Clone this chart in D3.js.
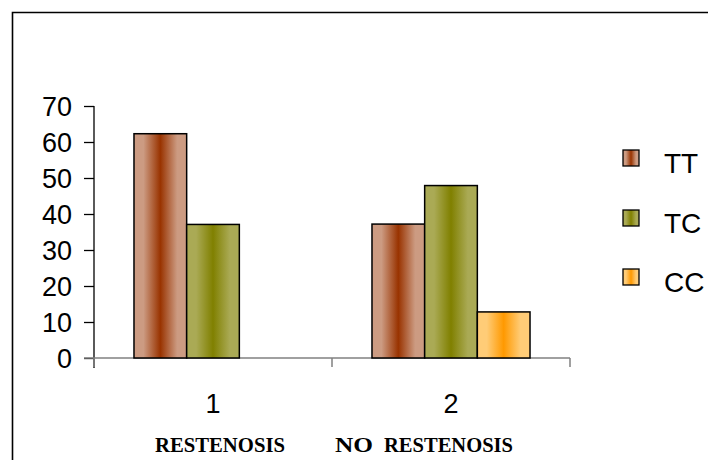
<!DOCTYPE html>
<html>
<head>
<meta charset="utf-8">
<script src="https://cdn.jsdelivr.net/npm/d3@7"></script>
<style>
html,body{margin:0;padding:0;background:#fff;}
svg{display:block;}
</style>
</head>
<body>
<svg id="chart" width="708" height="460"></svg>
<script>
// ---- data ----
const categories = ["1", "2"];
const categoryNames = ["RESTENOSIS", "NO RESTENOSIS"];
const seriesNames = ["TT", "TC", "CC"];
const TT = [62.3, 37.2];
const TC = [37.1, 47.9];
const CC = [null, 12.8];
const yTicks = [0, 10, 20, 30, 40, 50, 60, 70];

const seriesValues = [TT, TC, CC];
const colors = {
  TT: {edge: "#cc9b82", mid: "#993300"},
  TC: {edge: "#aaaa55", mid: "#808000"},
  CC: {edge: "#ffcc77", mid: "#ff9900"}
};

const svg = d3.select("#chart");

// frame
svg.append("path")
  .attr("d", "M12.5,460 L12.5,12.5 L708,12.5")
  .attr("fill", "none").attr("stroke", "#000").attr("stroke-width", 1.6);

// gradients
const defs = svg.append("defs");
seriesNames.forEach(s => {
  const g = defs.append("linearGradient").attr("id", "g" + s)
    .attr("x1", "0%").attr("x2", "100%").attr("y1", "0%").attr("y2", "0%");
  g.append("stop").attr("offset", "0%").attr("stop-color", colors[s].edge);
  g.append("stop").attr("offset", "18%").attr("stop-color", colors[s].edge);
  g.append("stop").attr("offset", "50%").attr("stop-color", colors[s].mid);
  g.append("stop").attr("offset", "82%").attr("stop-color", colors[s].edge);
  g.append("stop").attr("offset", "100%").attr("stop-color", colors[s].edge);
});

const y = d3.scaleLinear().domain([0, 70]).range([358, 106]);
const x0 = d3.scaleBand().domain(categories).range([94, 570])
  .paddingInner(0.336).paddingOuter(0.168);
const x1 = d3.scaleBand().domain(seriesNames).range([0, x0.bandwidth()]);

// y axis
const yAxis = svg.append("g").attr("transform", "translate(94,0)")
  .call(d3.axisLeft(y).tickValues(yTicks).tickSize(10).tickPadding(12).tickSizeOuter(0));
yAxis.select(".domain").remove();
yAxis.selectAll(".tick line").attr("stroke", "#000").attr("stroke-width", 1.3);
yAxis.selectAll(".tick text")
  .attr("font-family", "Liberation Sans, Arial, sans-serif")
  .attr("font-size", 27).attr("fill", "#000").attr("dy", "0.36em");
svg.append("line").attr("x1", 94).attr("x2", 94).attr("y1", y(70)).attr("y2", 368)
  .attr("stroke", "#000").attr("stroke-width", 1.3);

// x axis line (gray) and ticks
svg.append("line").attr("x1", 84).attr("x2", 570).attr("y1", y(0)).attr("y2", y(0))
  .attr("stroke", "#808080").attr("stroke-width", 1.5);
const xBounds = [94, x0("2") - x0.step() * x0.paddingInner() / 2, 570];
svg.selectAll(".xt").data(xBounds).enter().append("line")
  .attr("x1", d => d).attr("x2", d => d).attr("y1", y(0)).attr("y2", 367)
  .attr("stroke", "#808080").attr("stroke-width", 1.5);

// bars
categories.forEach((c, i) => {
  seriesNames.forEach((s, j) => {
    const v = seriesValues[j][i];
    if (v == null) return;
    svg.append("rect")
      .attr("x", x0(c) + x1(s))
      .attr("y", y(v))
      .attr("width", x1.bandwidth())
      .attr("height", y(0) - y(v))
      .attr("fill", "url(#g" + s + ")")
      .attr("stroke", "#000").attr("stroke-width", 1.5);
  });
});

// x category labels
svg.selectAll(".xl").data(categories).enter().append("text")
  .attr("x", d => x0(d) + x0.bandwidth() / 2)
  .attr("y", 413)
  .attr("text-anchor", "middle")
  .attr("font-family", "Liberation Sans, Arial, sans-serif")
  .attr("font-size", 27).attr("fill", "#000")
  .text(d => d);

// category names (bold serif), laid out word by word
const wordLayout = [
  [{x: 155, w: 130}],
  [{x: 335, w: 38}, {x: 384, w: 129}]
];
categoryNames.forEach((name, i) => {
  name.split(" ").forEach((word, k) => {
    const L = wordLayout[i][k];
    svg.append("text")
      .attr("x", L.x).attr("y", 452)
      .attr("font-family", "Liberation Serif, Times New Roman, serif")
      .attr("font-weight", "bold")
      .attr("font-size", 21).attr("fill", "#000")
      .attr("textLength", L.w)
      .attr("lengthAdjust", "spacingAndGlyphs")
      .text(word);
  });
});

// legend
const legY = [150, 210, 269];
seriesNames.forEach((s, j) => {
  svg.append("rect").attr("x", 623).attr("y", legY[j]).attr("width", 16).attr("height", 16)
    .attr("fill", "url(#g" + s + ")").attr("stroke", "#000").attr("stroke-width", 1.3);
  svg.append("text").attr("x", 664).attr("y", legY[j] + 23)
    .attr("font-family", "Liberation Sans, Arial, sans-serif")
    .attr("font-size", 28).attr("fill", "#000").text(s);
});
</script>
</body>
</html>
